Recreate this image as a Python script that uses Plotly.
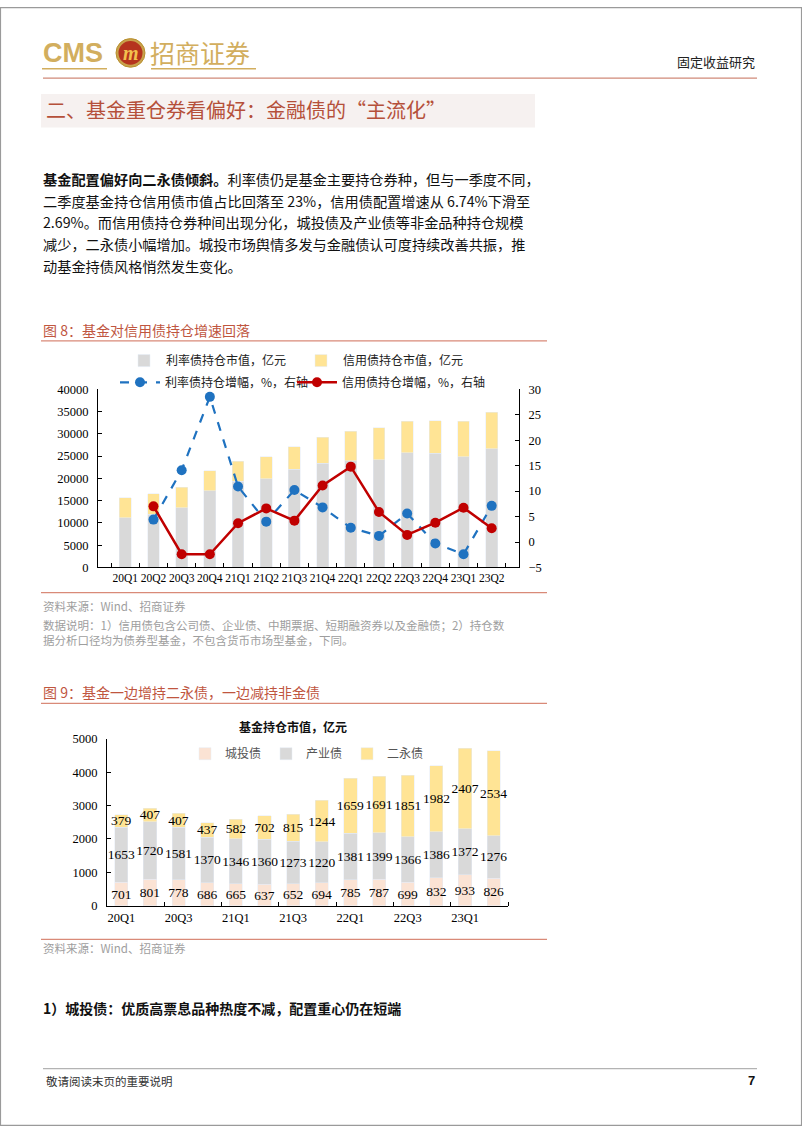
import plotly.graph_objects as go

W, H = 802, 1133


def X(px):
    return px / W


def Y(py):
    return 1 - py / H


# ---------------- data ----------------
quarters = ["20Q1", "20Q2", "20Q3", "20Q4", "21Q1", "21Q2", "21Q3", "21Q4",
            "22Q1", "22Q2", "22Q3", "22Q4", "23Q1", "23Q2"]
rate_hold = [11200, 12000, 13400, 17200, 19400, 19900, 22000, 23400,
             23900, 24200, 25700, 25600, 24800, 26600]
credit_hold = [4500, 4500, 4600, 4500, 4400, 4900, 5100, 5800,
               6700, 7100, 7100, 7300, 8000, 8200]
rate_growth = [None, 4.4, 14.1, 28.5, 10.9, 4.0, 10.2, 6.8,
               2.8, 1.2, 5.6, -0.3, -2.4, 7.1]
credit_growth = [None, 7.0, -2.4, -2.4, 3.7, 6.6, 4.2, 11.1,
                 14.8, 5.9, 1.4, 3.8, 6.74, 2.69]

chengtou = [701, 801, 778, 686, 665, 637, 652, 694, 785, 787, 699, 832, 933, 826]
chanye = [1653, 1720, 1581, 1370, 1346, 1360, 1273, 1220, 1381, 1399, 1366, 1386, 1372, 1276]
eryong = [379, 407, 407, 437, 582, 702, 815, 1244, 1659, 1691, 1851, 1982, 2407, 2534]

# ---------------- styles ----------------
CJK = "Noto Sans CJK SC"
SERIF = "Liberation Serif"
GOLD = "#D2AE5E"
RED_TXT = "#C0563F"
RED_LINE = "#D98A78"
GRAY_BAR = "#D9D9D9"
YEL_BAR = "#FFE495"
BLUE = "#1F72C0"
RED = "#C00000"
PEACH = "#FBE3D4"

fig = go.Figure()

# ---- Figure 8 ----
fig.add_trace(go.Bar(x=quarters, y=rate_hold, name="利率债持仓市值，亿元",
                     marker_color=GRAY_BAR, width=0.42, xaxis="x", yaxis="y",
                     legend="legend"))
fig.add_trace(go.Bar(x=quarters, y=credit_hold, name="信用债持仓市值，亿元",
                     marker_color=YEL_BAR, width=0.42, xaxis="x", yaxis="y",
                     legend="legend4"))
fig.add_trace(go.Scatter(x=quarters, y=rate_growth, name="利率债持仓增幅，%，右轴",
                         mode="lines+markers",
                         line=dict(color=BLUE, width=2.2, dash="dash"),
                         marker=dict(color=BLUE, size=10),
                         xaxis="x", yaxis="y2", legend="legend3"))
fig.add_trace(go.Scatter(x=quarters, y=credit_growth, name="信用债持仓增幅，%，右轴",
                         mode="lines+markers",
                         line=dict(color=RED, width=2.5),
                         marker=dict(color=RED, size=10),
                         xaxis="x", yaxis="y2", legend="legend5"))

# ---- Figure 9 ----
idx = list(range(len(quarters)))
for vals, nm, col in [(chengtou, "城投债", PEACH), (chanye, "产业债", GRAY_BAR),
                      (eryong, "二永债", YEL_BAR)]:
    fig.add_trace(go.Bar(x=idx, y=vals, name=nm, marker_color=col, width=0.46,
                         text=[str(v) for v in vals], textposition="inside",
                         insidetextanchor="middle", textangle=0,
                         constraintext="none",
                         textfont=dict(family=SERIF, size=13.5, color="#000000"),
                         xaxis="x2", yaxis="y3", legend="legend2"))

axis_common = dict(showgrid=False, zeroline=False, showline=True,
                   linecolor="#000000", linewidth=1)
tf = dict(family=SERIF, size=12.5, color="#000000")

leg_common = dict(orientation="h", xanchor="left", yanchor="middle",
                  traceorder="normal", bgcolor="rgba(0,0,0,0)")
lfont = dict(family=CJK, size=12, color="#222222")

fig.update_layout(
    width=W, height=H,
    margin=dict(l=0, r=0, t=0, b=0),
    paper_bgcolor="#FFFFFF", plot_bgcolor="rgba(0,0,0,0)",
    barmode="stack",
    uniformtext=dict(minsize=13, mode="show"),
    showlegend=True,
    xaxis=dict(domain=[X(98), X(519)], anchor="y", type="category",
               tickson="boundaries", ticks="inside", ticklen=4,
               tickcolor="#000000", tickangle=0,
               tickfont=dict(family=SERIF, size=11.5, color="#000000"),
               **axis_common),
    yaxis=dict(domain=[Y(567.5), Y(387)], anchor="x", range=[0, 40000],
               dtick=5000, tickformat="d", ticks="inside", ticklen=4,
               tickcolor="#000000", ticklabelstandoff=6, tickfont=tf,
               **axis_common),
    yaxis2=dict(overlaying="y", side="right", anchor="x", range=[-5, 30],
                dtick=5, ticks="inside", ticklen=4, tickcolor="#000000",
                ticklabelstandoff=6, tickfont=tf, **axis_common),
    xaxis2=dict(domain=[X(107), X(508)], anchor="y3", range=[-0.5, 13.5],
                tickmode="array", tickvals=idx[::2], ticktext=quarters[::2],
                ticks="", tickangle=0, tickfont=tf,
                minor=dict(tickmode="array",
                           tickvals=[i + 1.5 for i in idx[::2]],
                           ticks="inside", ticklen=4, tickcolor="#000000"),
                **axis_common),
    yaxis3=dict(domain=[Y(910), Y(741)], anchor="x2", range=[0, 5000],
                dtick=1000, tickformat="d", ticks="inside", ticklen=4,
                tickcolor="#000000", ticklabelstandoff=6, tickfont=tf,
                **axis_common),
    legend=dict(x=X(122), y=Y(358), itemwidth=34, font=lfont, **leg_common),
    legend4=dict(x=X(299), y=Y(358), itemwidth=34, font=lfont, **leg_common),
    legend3=dict(x=X(115), y=Y(380), itemwidth=40, font=lfont, **leg_common),
    legend5=dict(x=X(292), y=Y(380), itemwidth=40, font=lfont, **leg_common),
    legend2=dict(x=X(185), y=Y(756), itemwidth=30,
                 font=dict(family=CJK, size=12, color="#555555"),
                 **leg_common),
)

shapes = []
annots = []


def text(px, py, s, size, color="#000000", family=CJK, xanchor="left", bold=False):
    annots.append(dict(xref="paper", yref="paper", x=X(px), y=Y(py),
                       text=("<b>%s</b>" % s) if bold else s, showarrow=False,
                       xanchor=xanchor, yanchor="middle",
                       font=dict(family=family, size=size, color=color)))


def hline(x0, x1, py, color, width=1):
    shapes.append(dict(type="line", xref="paper", yref="paper",
                       x0=X(x0), x1=X(x1), y0=Y(py), y1=Y(py),
                       line=dict(color=color, width=width)))


# page border
shapes.append(dict(type="rect", xref="paper", yref="paper", x0=0.0006, x1=0.9994,
                   y0=0.0005, y1=0.9995, line=dict(color="#9A9A9A", width=1.2)))

# header
text(41, 47, "CMS", 27, GOLD, "Liberation Sans", bold=True)
shapes.append(dict(type="circle", xref="paper", yref="paper",
                   x0=X(116), x1=X(145), y0=Y(61), y1=Y(32),
                   fillcolor="#C9A24C", line=dict(color="#B8902F", width=1)))
shapes.append(dict(type="circle", xref="paper", yref="paper",
                   x0=X(118.5), x1=X(142.5), y0=Y(58.5), y1=Y(34.5),
                   fillcolor="#B5341E", line=dict(width=0)))
annots.append(dict(xref="paper", yref="paper", x=X(130.5), y=Y(46.5),
                   text="<b><i>m</i></b>", showarrow=False, xanchor="center",
                   yanchor="middle",
                   font=dict(family="Liberation Serif", size=20, color="#F2C14E")))
text(148, 46, "招商证券", 25, GOLD, CJK)
hline(42, 107, 62.5, GOLD, 1.5)
hline(151, 256, 62.5, GOLD, 1.5)
text(757, 55, "固定收益研究", 13, "#222222", CJK, xanchor="right")
hline(43, 757, 72, "#D08A78", 1.2)

# section title
shapes.append(dict(type="rect", xref="paper", yref="paper", x0=X(41), x1=X(535),
                   y0=Y(122), y1=Y(88), fillcolor="#F6F1F0", line=dict(width=0)))
text(44, 104, "二、基金重仓券看偏好：金融债的“主流化”", 20, "#B5503A", CJK)

# paragraph
para = [
    "<b>基金配置偏好向二永债倾斜。</b>利率债仍是基金主要持仓券种，但与一季度不同，",
    "二季度基金持仓信用债市值占比回落至 23%，信用债配置增速从 6.74%下滑至",
    "2.69%。而信用债持仓券种间出现分化，城投债及产业债等非金品种持仓规模",
    "减少，二永债小幅增加。城投市场舆情多发与金融债认可度持续改善共振，推",
    "动基金持债风格悄然发生变化。",
]
for i, line in enumerate(para):
    text(41, 174 + 22 * i, line, 14.2, "#111111", CJK)

# figure 8 title
text(41, 327, "图 8：基金对信用债持仓增速回落", 14, RED_TXT, CJK)
hline(41, 547, 338, RED_LINE, 1.2)
hline(41, 547, 593, RED_LINE, 1.2)
text(41, 607, "资料来源：Wind、招商证券", 11.5, "#9E9E9E", CJK)
text(41, 626, "数据说明：1）信用债包含公司债、企业债、中期票据、短期融资券以及金融债；2）持仓数", 11.5, "#9E9E9E", CJK)
text(41, 641, "据分析口径均为债券型基金，不包含货币市场型基金，下同。", 11.5, "#9E9E9E", CJK)

# figure 9 title
text(41, 694, "图 9：基金一边增持二永债，一边减持非金债", 14, RED_TXT, CJK)
hline(41, 547, 705, RED_LINE, 1.2)
text(293, 728, "基金持仓市值，亿元", 12, "#111111", CJK, xanchor="center", bold=True)
hline(41, 547, 944, RED_LINE, 1.2)
text(41, 953, "资料来源：Wind、招商证券", 11.5, "#9E9E9E", CJK)

# subsection
text(41, 1014, "1）城投债：优质高票息品种热度不减，配置重心仍在短端", 14, "#111111", CJK, bold=True)

# footer
hline(43, 757, 1075, "#A0A0A0", 1)
text(44, 1087, "敬请阅读末页的重要说明", 11.5, "#333333", CJK)
text(757, 1087, "7", 13, "#111111", "Liberation Sans", xanchor="right", bold=True)

fig.update_layout(shapes=shapes, annotations=annots)

fig.write_html("out.html", config={"displayModeBar": False},
               post_script="document.body.style.margin='0';document.body.style.overflow='hidden';")
